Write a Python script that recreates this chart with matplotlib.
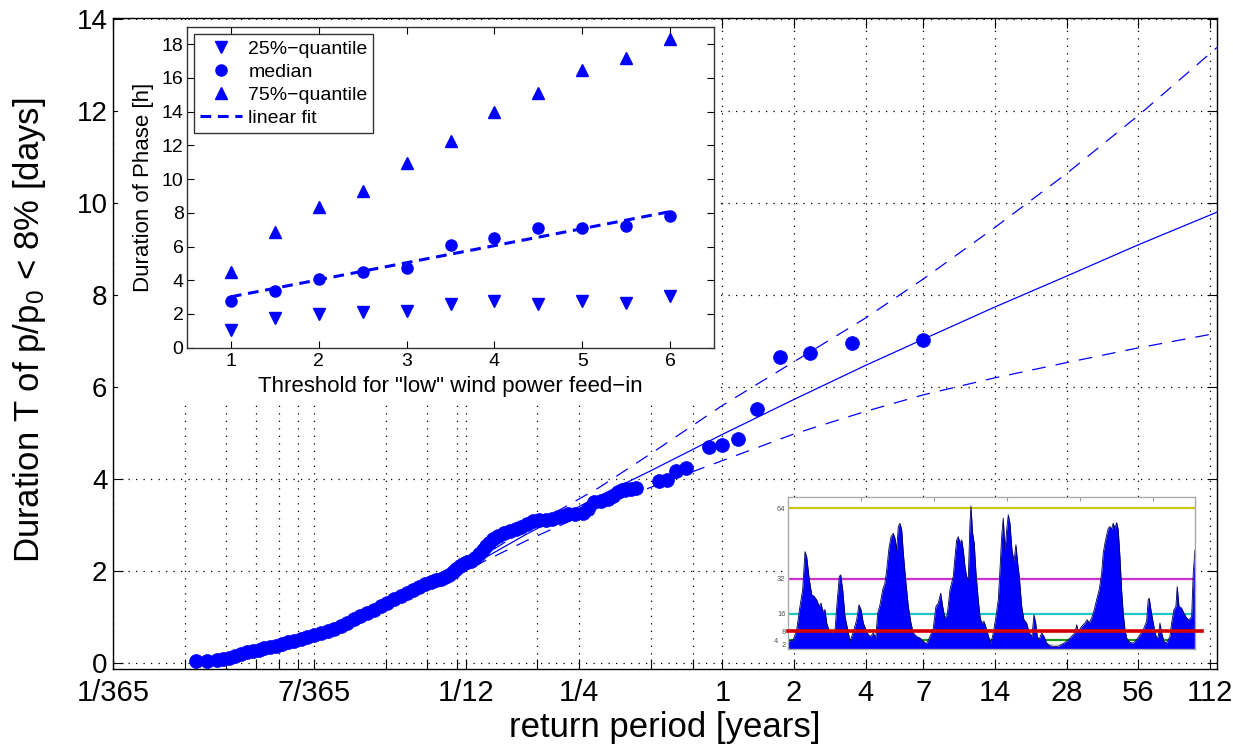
import numpy as np
import matplotlib
matplotlib.use('Agg')
import matplotlib.pyplot as plt
import matplotlib.transforms as mtransforms
from matplotlib.patches import Rectangle
from matplotlib.ticker import NullLocator

plt.rcParams['font.family'] = ['Liberation Sans', 'DejaVu Sans']
plt.rcParams['mathtext.fontset'] = 'custom'
plt.rcParams['mathtext.rm'] = 'Liberation Sans'
plt.rcParams['mathtext.it'] = 'Liberation Sans:italic'

# ---------------- main chart data: return period [years] vs duration [days]
return_period = [0.00610, 0.00679, 0.00748, 0.00793, 0.00840, 0.00890, 0.00944, 0.0100,
                 0.0106, 0.01123, 0.01179, 0.01249, 0.01324, 0.01403, 0.01487, 0.01576,
                 0.01686, 0.01787, 0.01912, 0.02046, 0.02189, 0.02320, 0.02483, 0.02632,
                 0.02816, 0.02985, 0.03193, 0.03417, 0.03656, 0.03875, 0.04146, 0.04437,
                 0.04703, 0.04983, 0.05281, 0.05597, 0.05931, 0.06225, 0.06533, 0.06790,
                 0.07058, 0.07337, 0.07555, 0.07852, 0.08083, 0.08402, 0.08735, 0.09078,
                 0.09436, 0.09808, 0.1010, 0.1039, 0.1080, 0.1134, 0.1202, 0.1274, 0.1350,
                 0.1417, 0.1502, 0.1591, 0.1686, 0.1804, 0.1912, 0.2026, 0.2127, 0.2233,
                 0.2388, 0.2581, 0.2709, 0.2871, 0.3072, 0.3287, 0.3450, 0.3621, 0.3764,
                 0.3912, 0.4106, 0.4310, 0.5385, 0.5833, 0.6364, 0.7, 0.875, 1.0, 1.1667,
                 1.4, 1.75, 2.3333, 3.5, 7.0]
duration = [0.04, 0.04, 0.07, 0.09, 0.11, 0.15, 0.19, 0.23,
            0.26, 0.29, 0.32, 0.35, 0.38, 0.42, 0.45, 0.48,
            0.52, 0.56, 0.60, 0.65, 0.70, 0.75, 0.80, 0.88,
            0.96, 1.03, 1.09, 1.16, 1.24, 1.31, 1.39, 1.46,
            1.52, 1.59, 1.65, 1.71, 1.76, 1.80, 1.83, 1.86,
            1.91, 1.98, 2.04, 2.10, 2.15, 2.19, 2.22, 2.29,
            2.37, 2.46, 2.54, 2.61, 2.69, 2.76, 2.83, 2.88, 2.92,
            2.96, 3.03, 3.09, 3.10, 3.11, 3.14, 3.17, 3.20, 3.23,
            3.24, 3.25, 3.34, 3.51, 3.53, 3.56, 3.64, 3.72, 3.75,
            3.78, 3.79, 3.80, 3.96, 3.98, 4.17, 4.24, 4.70, 4.74, 4.87,
            5.52, 6.65, 6.74, 6.96, 7.02]

fit_T = [0.09, 0.15, 0.3, 0.5, 1, 2, 4, 7, 14, 28, 56, 120]
fit_mid = [2.15, 2.80, 3.62, 4.18, 4.97, 5.73, 6.47, 7.04, 7.74, 8.41, 9.09, 9.80]
fit_hi = [2.20, 2.92, 3.80, 4.55, 5.60, 6.55, 7.50, 8.35, 9.47, 10.64, 11.90, 13.38]
fit_lo = [2.10, 2.66, 3.36, 3.82, 4.40, 4.98, 5.47, 5.83, 6.20, 6.53, 6.85, 7.17]

x_ticks = [1/365, 2/365, 3/365, 4/365, 5/365, 6/365, 7/365, 14/365, 21/365, 28/365,
           1/12, 2/12, 3/12, 6/12, 9/12, 1, 2, 4, 7, 14, 28, 56, 112]
x_ticklabels = ['1/365', '', '', '', '', '', '7/365', '', '', '', '1/12', '', '1/4', '', '',
                '1', '2', '4', '7', '14', '28', '56', '112']
y_ticks = [0, 2, 4, 6, 8, 10, 12, 14]

# ---------------- inset 1: duration of phase vs threshold
threshold = [1, 1.5, 2, 2.5, 3, 3.5, 4, 4.5, 5, 5.5, 6]
q25 = [1.05, 1.74, 2.0, 2.14, 2.18, 2.59, 2.77, 2.59, 2.77, 2.63, 3.07]
median = [2.77, 3.38, 4.09, 4.47, 4.73, 6.09, 6.49, 7.08, 7.08, 7.22, 7.81]
q75 = [4.47, 6.88, 8.33, 9.30, 10.98, 12.28, 14.0, 15.13, 16.48, 17.15, 18.32]
linfit_x = [1, 6]
linfit_y = [3.02, 8.07]

# ---------------- inset 2: wind power time series
ts_t = [0, 6.9, 11.5, 16.0, 19.7, 22.9, 25.2, 28.8, 32.1, 35.3, 38.9, 42.5, 44.9, 47.2, 50.3,
        52.7, 56.2, 59.5, 64.1, 67.2, 70.0, 71.9, 74.6, 77.8, 81.5, 84.6, 87.0, 90.1, 93.8,
        97.0, 99.7, 102.9, 106.6, 109.7, 113.0, 116.6, 119.9, 122.6, 125.8, 129.5, 132.6,
        135.0, 138.1, 140.9, 144.0, 146.4, 148.7, 150.9, 153.2, 155.6, 157.8, 161.0, 164.6,
        168.3, 171.5, 176.1, 180.7,
        185.2, 189.8, 194.4, 198.9, 202.6, 205.8, 209.1, 211.8, 214.9, 218.1, 221.8, 224.1,
        226.3, 228.7, 231.0, 233.2, 235.5, 237.9, 240.1, 242.4, 244.7, 246.9, 249.2, 250.6,
        252.9, 255.1, 257.5, 260.6, 263.0, 265.3, 268.4, 272.2, 275.3, 278.1, 281.2, 284.9,
        288.1, 290.4, 292.7, 294.9, 297.3, 299.6, 301.8, 304.1, 306.9, 309.6, 312.3, 314.7,
        316.9, 320.2, 323.3, 327.0, 330.6, 334.3, 337.0, 339.4, 341.6, 343.9, 347.6, 350.8,
        354.5, 359.0, 363.5, 370.4,
        377.2, 381.9, 386.4, 393.3, 395.6, 397.8, 402.5, 407.0, 410.2, 412.9, 416.2, 419.8,
        423.0, 426.6, 429.9, 432.1, 434.4, 436.8, 439.0, 441.3, 443.6, 445.8, 448.1, 450.5,
        452.7, 455.0, 457.3, 459.5, 461.9, 464.2, 468.7, 473.3, 477.9, 482.4, 487.0, 491.6,
        493.8, 495.2, 497.5, 500.7, 503.0, 505.3, 507.5, 509.9, 512.2, 515.4, 519.0, 523.6,
        525.9, 529.1, 531.8, 533.6, 536.0, 539.6, 542.8, 546.5, 550.1, 553.4, 555.6, 557.9]
ts_v = [3.5, 4.2, 8.8, 19.4, 27, 44.3, 42, 31.5, 24.7, 24, 22.4, 19.4, 20.9, 17.1, 17.9,
        11.8, 8.0, 7.3, 8.8, 22.4, 33, 33.7, 27, 14.8, 8.8, 3.5, 5.7, 8.8, 13.3,
        20.1, 17.9, 11.8, 8.8, 6.5, 5.7, 7.3, 5, 16.3, 20.1, 27, 30,
        36, 45.8, 51, 52.6, 50.4, 45, 55.7, 57.2, 54.2, 43.6, 31.5, 19.4,
        11.8, 7.3, 5.7, 5,
        3.5, 2.4, 5.7, 9.5, 19.4, 20.9, 25.4, 19.4, 14.1, 15.6, 27, 30,
        33, 42, 49.6, 51.1, 48.1, 49.6, 45, 37.5, 33, 31.5, 57.2, 65,
        52.6, 48.1, 34.5, 22.4, 14.8, 11.8, 12.6, 8.8, 5, 2.7, 7.3, 14.8,
        22.4, 36, 51.1, 59.5, 45, 54.2, 61, 57.2, 45, 39.8, 47.4, 39,
        33, 19.4, 13.3, 11.8, 7.3, 5.7, 15.6, 11.8, 5.7, 4.2, 7.3, 5.7,
        2.7, 1.5, 1.2, 1.2,
        2.5, 3.5, 5, 7.3, 11, 8, 10.3, 11.8, 13.3, 11.8, 14.1, 17.9,
        22.4, 27, 34.5, 43.6, 48.1, 51.9, 54.9, 55.7, 54.5, 57.2, 54.9, 57.5,
        54.2, 42, 27, 16.3, 8.8, 5, 3, 2.7, 4.2, 6.5, 8.8, 12.6,
        22.4, 23.1, 17.9, 11.8, 8, 5, 5.7, 11.8, 7.3, 3.5, 2.7, 5.7,
        11.8, 17.9, 19.4, 28.4, 19.4, 18.6, 16.3, 14.1, 13.3, 14.8, 34.5, 45]
level_values = [2, 4, 16, 32, 64]
level_colors = ['#d8d8d8', '#1a9a1a', '#1ec8c8', '#cc33cc', '#c8c814']
red_level = 8
inset_yticks = [2, 4, 8, 16, 32, 64]

W, H = 1233, 747
fig = plt.figure(figsize=(W / 100, H / 100), dpi=100)

def frac(x0, y0, x1, y1):
    return [x0 / W, 1 - y1 / H, (x1 - x0) / W, (y1 - y0) / H]

# ---------------- main axes
ax = fig.add_axes(frac(113, 18, 1217, 669))
ax.set_xscale('log')
ax.plot(return_period, duration, 'o', color='blue', ms=10, mec='blue', mew=0.5, zorder=3)
ax.plot(fit_T, fit_mid, '-', color='blue', lw=0.9, zorder=4)
ax.plot(fit_T, fit_hi, color='blue', lw=0.9, dashes=(11, 8), zorder=4)
ax.plot(fit_T, fit_lo, color='blue', lw=0.9, dashes=(11, 8), zorder=4)
ax.set_xlim(1 / 365, 120)
ax.set_ylim(-0.13, 14.02)
ax.set_xticks(x_ticks)
ax.set_xticklabels(x_ticklabels)
ax.xaxis.set_minor_locator(NullLocator())
ax.set_yticks(y_ticks)
ax.grid(True, color='black', linestyle=(0, (1, 5)), linewidth=0.9)
ax.tick_params(direction='in', top=True, right=True, length=7, width=0.8)
ax.tick_params(axis='x', labelsize=21, pad=7)
ax.tick_params(axis='y', labelsize=20, pad=4)
for s in ax.spines.values():
    s.set_linewidth(1.0)
ax.set_xlabel('return period [years]', fontsize=25, va='center')
ax.xaxis.set_label_coords(0.5, (669 - 728) / 651)
ax.set_ylabel('Duration T of p/p$_0$ < 8% [days]', fontsize=25, va='center')
ax.yaxis.set_label_coords((30 - 113) / 1104, (669 - 330) / 651)

# white background of pasted inset
fig.add_artist(Rectangle((118 / W, 1 - 405 / H), 598 / W, 385 / H,
                         transform=fig.transFigure, facecolor='white',
                         edgecolor='none', zorder=2))

# ---------------- inset 1
axA = fig.add_axes(frac(187, 27.3, 714, 347.7), zorder=3)
axA.plot(threshold, q25, 'v', color='blue', ms=8.5, ls='none', label='25%\u2212quantile')
axA.plot(threshold, median, 'o', color='blue', ms=8, ls='none', label='median')
axA.plot(threshold, q75, '^', color='blue', ms=8.5, ls='none', label='75%\u2212quantile')
axA.plot(linfit_x, linfit_y, color='blue', lw=2.2, linestyle=(0, (3.5, 2.2)), label='linear fit')
axA.set_xlim(0.5, 6.5)
axA.set_ylim(0, 19)
axA.set_xticks([1, 2, 3, 4, 5, 6])
axA.set_yticks(np.arange(0, 19, 2))
axA.tick_params(direction='in', top=True, right=True, length=5, width=0.8, labelsize=14)
axA.tick_params(axis='x', pad=4)
axA.tick_params(axis='y', pad=2.5)
for s in axA.spines.values():
    s.set_color('#333333')
    s.set_linewidth(1.0)
axA.set_xlabel('Threshold for "low" wind power feed\u2212in', fontsize=16, va='center')
axA.xaxis.set_label_coords(0.5, (347.7 - 386.5) / 320.4)
axA.set_ylabel('Duration of Phase [h]', fontsize=16, va='center')
axA.yaxis.set_label_coords((144 - 187) / 527, 0.5)
leg = axA.legend(loc='upper left', fontsize=14, frameon=True, fancybox=False,
                 edgecolor='#333333', framealpha=1, numpoints=1, handlelength=2.2,
                 handletextpad=0.3, labelspacing=0.28, borderpad=0.3, borderaxespad=0.35)
leg.get_frame().set_linewidth(1.0)

# ---------------- inset 2
axB = fig.add_axes(frac(788.3, 497.3, 1195, 649), zorder=3)
for lv, lc in zip(level_values, level_colors):
    axB.axhline(lv, color=lc, lw=1.6, zorder=1)
axB.fill_between(ts_t, ts_v, 0, color='blue', lw=0, zorder=2)
axB.plot(ts_t, ts_v, color='#000050', lw=0.6, zorder=2.5)
axB.axhline(red_level, xmin=0, xmax=1.018, color='#d40000', lw=2.6, zorder=4, clip_on=False)
axB.set_xlim(0, 558)
axB.set_ylim(0, 69)
axB.set_xticks([100, 200, 300, 400, 500])
axB.set_yticks(inset_yticks)
axB.tick_params(axis='x', direction='in', top=True, length=3, color='#999999', labelbottom=False)
axB.tick_params(axis='y', length=0, labelsize=5.5, labelcolor='#555555', pad=2)
for s in axB.spines.values():
    s.set_color('#aaaaaa')
    s.set_linewidth(1.0)
# stagger the tightly packed small labels (2, 4) sideways so they stay legible
for lab, tv in zip(axB.get_yticklabels(), inset_yticks):
    if tv == 4:
        lab.set_transform(lab.get_transform() +
                          mtransforms.ScaledTranslation(-5 / 72, 0, fig.dpi_scale_trans))

fig.savefig('out.png', dpi=100)
